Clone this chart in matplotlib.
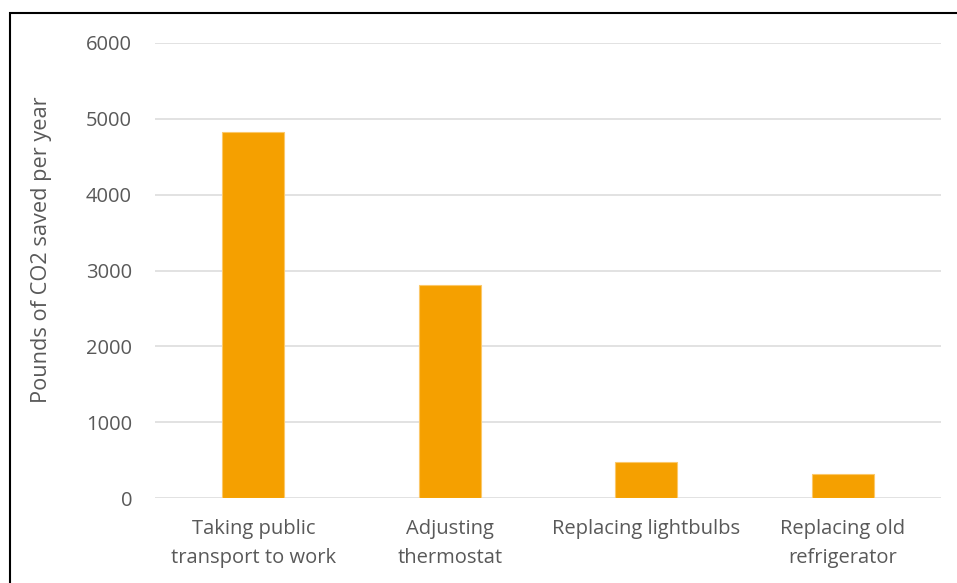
import matplotlib
matplotlib.use("Agg")
import matplotlib.pyplot as plt
from matplotlib.patches import Rectangle

categories = ["Taking public\ntransport to work", "Adjusting\nthermostat",
              "Replacing lightbulbs", "Replacing old\nrefrigerator"]
values = [4830, 2805, 470, 310]
yticks = [0, 1000, 2000, 3000, 4000, 5000, 6000]

plt.rcParams['font.family'] = ['Open Sans', 'DejaVu Sans']
grey = "#595959"

fig = plt.figure(figsize=(9.57, 5.83), dpi=100)
ax = fig.add_axes([155/957, 1 - 498/583, (941-155)/957, (498-43)/583])

x = range(len(categories))
ax.bar(x, values, width=0.316, color="#F5A000", edgecolor="#FBC86A", linewidth=0.8, zorder=3)
ax.set_xlim(-0.5, len(categories) - 0.5)
ax.set_ylim(0, 6000)
ax.set_yticks(yticks)
ax.set_yticklabels([str(t) for t in yticks])
ax.set_xticks(list(x))
ax.set_xticklabels(categories)
ax.grid(axis='y', color="#DDDDDD", linewidth=1.2, zorder=0)
for s in ax.spines.values():
    s.set_visible(False)
ax.tick_params(axis='both', length=0, labelsize=14.5, colors=grey)
ax.tick_params(axis='y', pad=16.5)
ax.tick_params(axis='x', pad=15)
ax.set_ylabel("Pounds of CO2 saved per year", fontsize=15.7, color=grey)
ax.yaxis.set_label_coords(-0.131, 0.545)
for lab in ax.get_xticklabels():
    lab.set_linespacing(1.6)

fig.patches.append(Rectangle((10/957, -0.1), 1.2, 1 - 13/583 + 0.1, transform=fig.transFigure,
                             fill=False, edgecolor="black", linewidth=1.5, zorder=10))

fig.savefig("out.png", dpi=100)
